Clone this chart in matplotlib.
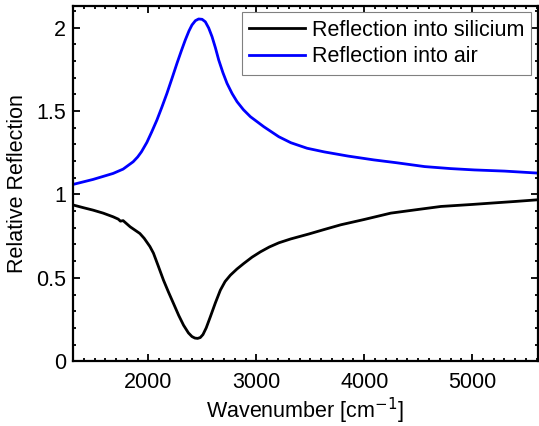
import numpy as np
import matplotlib
matplotlib.use("Agg")
import matplotlib.pyplot as plt
from matplotlib.ticker import MultipleLocator

# Values
wn_silicium = [1300, 1400, 1486, 1580, 1672, 1720, 1740, 1765, 1830, 1920,
               1960, 2013, 2046, 2090, 2139, 2185, 2232, 2280, 2325, 2370,
               2403, 2430, 2455, 2480, 2505, 2535, 2573, 2620, 2666, 2710,
               2759, 2820, 2883, 2960, 3038, 3120, 3208, 3317, 3487, 3630,
               3782, 4000, 4246, 4500, 4711, 5000, 5175, 5400, 5609]
refl_silicium = [0.937, 0.920, 0.906, 0.888, 0.866, 0.852, 0.840, 0.843, 0.806, 0.766,
                 0.737, 0.688, 0.648, 0.572, 0.486, 0.415, 0.346, 0.275, 0.216, 0.170,
                 0.148, 0.139, 0.137, 0.142, 0.160, 0.200, 0.266, 0.350, 0.426, 0.478,
                 0.516, 0.553, 0.586, 0.624, 0.656, 0.685, 0.710, 0.733, 0.763, 0.790,
                 0.818, 0.850, 0.888, 0.910, 0.928, 0.940, 0.948, 0.958, 0.968]

wn_air = [1300, 1486, 1672, 1765, 1858, 1900, 1935, 1985, 2030, 2078,
          2125, 2171, 2220, 2264, 2305, 2341, 2375, 2403, 2435, 2465,
          2497, 2527, 2558, 2589, 2620, 2651, 2690, 2728, 2775, 2821,
          2880, 2945, 3069, 3208, 3320, 3470, 3630, 3850, 4090, 4300,
          4560, 4800, 5020, 5300, 5610]
refl_air = [1.060, 1.090, 1.126, 1.152, 1.196, 1.225, 1.256, 1.312, 1.375, 1.446,
            1.525, 1.606, 1.700, 1.786, 1.862, 1.926, 1.980, 2.016, 2.042, 2.052,
            2.050, 2.035, 1.998, 1.946, 1.880, 1.806, 1.730, 1.666, 1.605, 1.556,
            1.508, 1.466, 1.406, 1.346, 1.310, 1.277, 1.255, 1.230, 1.207, 1.190,
            1.167, 1.155, 1.147, 1.140, 1.128]

plt.rcParams['font.family'] = ['Liberation Sans', 'DejaVu Sans']

fig = plt.figure(figsize=(5.39, 4.26), dpi=100)
ax = fig.add_axes([0.1354, 0.152, 0.8626, 0.834])

ax.plot(wn_silicium, refl_silicium, color='black', lw=2, label='Reflection into silicium')
ax.plot(wn_air, refl_air, color='#0000ff', lw=2, label='Reflection into air')

ax.set_xlim(1300, 5610)
ax.set_ylim(0, 2.13)
ax.xaxis.set_major_locator(MultipleLocator(1000))
ax.xaxis.set_minor_locator(MultipleLocator(100))
ax.yaxis.set_minor_locator(MultipleLocator(0.1))
ax.set_yticks([0, 0.5, 1, 1.5, 2])
ax.set_yticklabels(['0', '0.5', '1', '1.5', '2'])

ax.tick_params(which='both', direction='in', top=True, right=True, labelsize=15.5, width=1.3)
ax.tick_params(which='major', length=5)
ax.tick_params(which='minor', length=2.5)
ax.tick_params(axis='x', which='major', pad=8)
ax.tick_params(axis='y', which='major', pad=5)
for s in ax.spines.values():
    s.set_linewidth(1.6)

ax.set_xlabel('Wavenumber [cm$^{-1}$]', fontsize=15.5, labelpad=2)
ax.set_ylabel('Relative Reflection', fontsize=15.5, labelpad=6)

leg = ax.legend(loc='upper right', fontsize=15.5, fancybox=False, framealpha=1,
                edgecolor='gray', borderaxespad=0.3, handlelength=2.6,
                handletextpad=0.3, borderpad=0.35, labelspacing=0.25)
leg.get_frame().set_linewidth(0.8)

fig.savefig('out.png', dpi=100)
